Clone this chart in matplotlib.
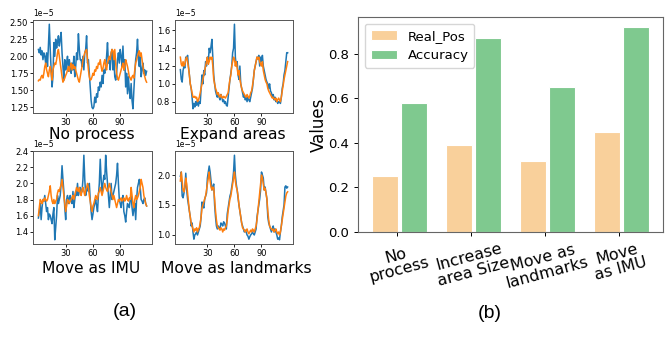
import numpy as np
import matplotlib
matplotlib.use('Agg')
import matplotlib.pyplot as plt

# left panel: four time series (values in units of 1e-5)
noproc_blue = [2.10, 2.05, 2.13, 2.02, 2.08, 1.95, 2.05, 2.00, 1.90, 2.05,
               1.85, 2.15, 2.47, 2.10, 1.80, 1.55, 1.70, 2.20, 2.00, 2.25,
               2.12, 2.20, 2.30, 2.15, 2.25, 2.35, 2.05, 1.85, 1.65, 1.95,
               1.80, 1.90, 2.00, 1.78, 1.95, 1.85, 1.75, 1.90, 1.80, 2.00,
               1.70, 1.85, 2.05, 1.95, 2.33, 2.10, 1.95, 1.95, 1.85, 2.00,
               1.80, 2.05, 2.10, 2.30, 1.90, 1.95, 1.75, 1.55, 1.35, 1.25,
               1.23, 1.26, 1.40, 1.32, 1.45, 1.40, 1.55, 1.50, 1.62, 1.55,
               1.72, 1.60, 1.80, 1.75, 1.85, 2.00, 2.20, 1.90, 1.95, 1.80,
               2.05, 2.10, 1.80, 1.95, 1.70, 1.65, 1.75, 1.95, 2.05, 1.90,
               2.10, 2.00, 1.85, 2.15, 1.80, 1.95, 1.55, 1.75, 1.45, 1.70,
               1.50, 1.38, 1.60, 1.35, 1.23, 1.50, 1.75, 1.95, 2.05, 2.25,
               1.95, 1.85, 2.00, 1.70, 1.80, 1.90, 1.75, 1.80, 1.72, 1.78]
noproc_orange = [1.64, 1.66, 1.65, 1.70, 1.72, 1.68, 1.75, 1.85, 1.90, 1.80,
                 1.75, 1.70, 1.80, 1.85, 1.75, 1.65, 1.80, 1.85, 1.90, 1.88,
                 1.95, 2.05, 2.10, 2.00, 1.90, 1.80, 1.70, 1.62, 1.65, 1.68,
                 1.72, 1.75, 1.80, 1.85, 1.78, 1.85, 1.90, 1.80, 1.88, 1.82,
                 1.85, 1.80, 1.75, 1.70, 1.65, 1.62, 1.70, 1.78, 1.85, 1.95,
                 2.00, 2.05, 2.08, 2.10, 1.95, 1.80, 1.70, 1.65, 1.66, 1.70,
                 1.75, 1.72, 1.80, 1.78, 1.85, 1.82, 1.90, 1.88, 1.95, 1.85,
                 1.78, 1.82, 1.90, 1.95, 1.85, 1.80, 1.90, 1.95, 2.00, 1.95,
                 2.05, 2.10, 2.08, 1.95, 2.10, 1.90, 1.75, 1.68, 1.65, 1.70,
                 1.75, 1.80, 1.85, 1.90, 1.80, 1.85, 1.95, 1.90, 1.85, 1.78,
                 1.70, 1.68, 1.65, 1.70, 1.72, 1.68, 1.80, 1.90, 1.95, 2.00,
                 2.05, 2.08, 2.00, 2.05, 1.95, 1.85, 1.75, 1.70, 1.65, 1.62]

expand_blue = [1.16, 1.05, 1.02, 1.15, 1.20, 1.18, 1.30, 1.28, 1.32, 1.20,
               1.10, 1.00, 0.95, 0.85, 0.72, 0.78, 0.74, 0.80, 0.76, 0.82,
               0.75, 0.80, 0.78, 0.95, 1.10, 1.00, 1.15, 1.10, 1.25, 1.20,
               1.30, 1.25, 1.40, 1.35, 1.42, 1.50, 1.30, 1.10, 1.00, 0.92,
               0.88, 0.85, 0.90, 0.85, 0.82, 0.88, 0.85, 0.80, 0.82, 0.78,
               0.80, 0.76, 0.75, 0.85, 0.95, 1.05, 1.12, 1.20, 1.35, 1.40,
               1.67, 1.30, 1.20, 1.25, 1.10, 1.05, 1.20, 1.00, 0.95, 0.90,
               0.85, 0.88, 0.82, 0.85, 0.80, 0.85, 0.82, 0.80, 0.85, 0.90,
               0.95, 1.05, 1.15, 1.20, 1.25, 1.30, 1.28, 1.32, 1.20, 1.30,
               1.25, 1.32, 1.20, 1.15, 1.10, 1.05, 1.02, 1.00, 0.95, 1.00,
               0.92, 0.90, 0.85, 0.88, 0.82, 0.85, 0.80, 0.82, 0.78, 0.80,
               0.80, 0.78, 0.85, 0.95, 1.00, 1.10, 1.15, 1.25, 1.35, 1.35]
expand_orange = [1.30, 1.22, 1.20, 1.25, 1.20, 1.22, 1.28, 1.30, 1.25, 1.18,
                 1.10, 1.00, 0.95, 0.90, 0.85, 0.85, 0.86, 0.84, 0.85, 0.80,
                 0.82, 0.85, 0.90, 0.95, 1.00, 1.05, 1.10, 1.15, 1.20, 1.25,
                 1.30, 1.22, 1.25, 1.30, 1.28, 1.30, 1.20, 1.05, 1.00, 0.95,
                 0.92, 0.88, 0.90, 0.86, 0.85, 0.88, 0.85, 0.84, 0.86, 0.85,
                 0.84, 0.86, 0.88, 0.90, 0.98, 1.05, 1.10, 1.20, 1.25, 1.30,
                 1.28, 1.20, 1.25, 1.18, 1.10, 1.15, 1.05, 1.00, 0.95, 0.92,
                 0.90, 0.88, 0.86, 0.85, 0.88, 0.86, 0.84, 0.86, 0.90, 0.92,
                 0.98, 1.05, 1.15, 1.20, 1.25, 1.30, 1.28, 1.30, 1.25, 1.22,
                 1.20, 1.25, 1.15, 1.10, 1.05, 1.02, 1.00, 0.95, 0.92, 0.90,
                 0.88, 0.86, 0.84, 0.85, 0.83, 0.82, 0.84, 0.80, 0.82, 0.84,
                 0.82, 0.80, 0.85, 0.92, 0.98, 1.05, 1.10, 1.15, 1.20, 1.25]

imu_blue = [1.57, 1.65, 1.75, 1.55, 1.70, 1.80, 1.78, 1.85, 1.75, 1.65,
            1.70, 1.55, 1.62, 1.60, 1.55, 1.50, 1.62, 1.70, 1.30, 1.45,
            1.60, 1.85, 1.75, 1.80, 1.85, 2.00, 2.22, 2.05, 1.90, 1.70,
            1.55, 1.80, 1.85, 1.75, 1.82, 1.85, 1.78, 1.75, 1.90, 1.70,
            1.80, 1.90, 1.85, 2.00, 1.85, 1.90, 1.95, 1.88, 1.90, 2.05,
            2.35, 2.05, 1.85, 1.92, 1.95, 1.90, 2.00, 1.80, 1.65, 1.55,
            1.62, 1.70, 1.75, 1.80, 1.72, 1.65, 1.85, 2.00, 2.30, 2.05,
            1.90, 2.00, 2.10, 2.05, 2.35, 2.15, 2.00, 1.85, 1.70, 1.85,
            2.00, 1.80, 1.85, 1.90, 1.95, 2.00, 2.10, 2.25, 2.00, 1.80,
            1.75, 1.70, 1.80, 1.85, 1.65, 1.60, 1.52, 1.65, 1.75, 1.72,
            1.70, 1.80, 1.85, 1.70, 1.60, 1.68, 1.75, 1.55, 1.80, 1.95,
            2.00, 2.05, 1.95, 1.80, 1.78, 1.75, 1.80, 1.82, 1.75, 1.72]
imu_orange = [1.60, 1.70, 1.80, 1.78, 1.75, 1.80, 1.78, 1.82, 1.80, 1.78,
              1.80, 1.85, 1.90, 1.97, 1.85, 1.78, 1.75, 1.80, 1.75, 1.78,
              1.80, 1.88, 1.92, 1.90, 1.95, 1.98, 2.05, 1.95, 1.85, 1.75,
              1.65, 1.72, 1.80, 1.78, 1.75, 1.78, 1.80, 1.82, 1.85, 1.80,
              1.85, 1.90, 1.95, 1.92, 1.90, 1.95, 1.88, 1.85, 1.92, 1.95,
              1.90, 1.85, 1.92, 1.95, 2.00, 1.95, 1.85, 1.78, 1.70, 1.65,
              1.72, 1.75, 1.80, 1.85, 1.82, 1.80, 1.88, 1.90, 1.95, 1.90,
              1.85, 1.90, 1.95, 2.00, 1.95, 1.92, 1.90, 1.95, 2.00, 1.95,
              1.90, 1.85, 1.80, 1.85, 1.80, 1.75, 1.70, 1.75, 1.80, 1.78,
              1.80, 1.82, 1.78, 1.80, 1.82, 1.78, 1.80, 1.85, 1.80, 1.78,
              1.82, 1.80, 1.95, 1.85, 1.75, 1.70, 1.80, 1.85, 1.80, 1.82,
              1.85, 1.90, 1.95, 2.05, 2.00, 1.95, 1.85, 1.80, 1.75, 1.72]

land_blue = [1.98, 2.05, 1.65, 1.62, 1.70, 1.80, 2.03, 1.75, 1.60, 1.50,
             1.40, 1.30, 1.15, 1.20, 1.05, 0.93, 1.00, 1.02, 1.05, 1.00,
             1.05, 1.10, 1.15, 1.30, 1.55, 1.50, 1.45, 1.60, 1.65, 1.70,
             1.95, 2.05, 2.15, 2.05, 1.90, 1.75, 1.80, 1.85, 1.50, 1.30,
             1.15, 1.10, 1.15, 1.12, 1.10, 1.20, 1.18, 1.15, 1.22, 1.20,
             1.15, 1.10, 1.35, 1.45, 1.55, 1.65, 1.70, 1.80, 1.90, 2.05,
             2.33, 2.00, 1.85, 1.75, 1.62, 1.50, 1.40, 1.30, 1.20, 1.15,
             1.10, 1.05, 1.08, 1.05, 1.00, 0.98, 0.93, 0.97, 1.00, 1.02,
             1.05, 1.02, 1.00, 1.05, 1.10, 1.30, 1.40, 1.50, 1.60, 1.75,
             2.05, 2.00, 1.95, 1.75, 1.80, 1.70, 1.60, 1.30, 1.20, 1.15,
             1.10, 1.05, 1.10, 1.15, 1.05, 1.10, 1.05, 1.00, 0.93, 0.95,
             0.92, 1.05, 1.15, 1.30, 1.40, 1.50, 1.80, 1.82, 1.78, 1.80]
land_orange = [1.90, 2.05, 1.90, 1.75, 1.72, 1.80, 1.95, 1.85, 1.70, 1.55,
               1.40, 1.30, 1.20, 1.15, 1.10, 1.05, 1.10, 1.08, 1.12, 1.05,
               1.10, 1.12, 1.20, 1.30, 1.45, 1.50, 1.55, 1.60, 1.65, 1.75,
               1.85, 1.95, 2.05, 1.90, 1.80, 1.75, 1.80, 1.78, 1.60, 1.40,
               1.25, 1.15, 1.12, 1.10, 1.08, 1.12, 1.10, 1.05, 1.10, 1.08,
               1.12, 1.15, 1.25, 1.40, 1.50, 1.60, 1.65, 1.75, 1.85, 1.95,
               2.05, 1.90, 1.80, 1.75, 1.65, 1.50, 1.40, 1.30, 1.20, 1.12,
               1.10, 1.08, 1.05, 1.08, 1.10, 1.05, 1.02, 1.05, 1.08, 1.05,
               1.10, 1.08, 1.05, 1.10, 1.15, 1.25, 1.40, 1.55, 1.70, 1.85,
               2.00, 1.95, 1.85, 1.75, 1.78, 1.70, 1.60, 1.40, 1.25, 1.15,
               1.12, 1.10, 1.08, 1.10, 1.05, 1.08, 1.10, 1.05, 1.02, 1.05,
               1.00, 1.05, 1.15, 1.25, 1.35, 1.45, 1.55, 1.65, 1.70, 1.72]

panel_names = ['No process', 'Expand areas', 'Move as IMU', 'Move as landmarks']
panel_yticks = [[1.25, 1.50, 1.75, 2.00, 2.25, 2.50],
                [0.8, 1.0, 1.2, 1.4, 1.6],
                [1.4, 1.6, 1.8, 2.0, 2.2, 2.4],
                [1.0, 1.5, 2.0]]

# right panel: bars
bar_labels = ['No\nprocess', 'Increase\narea Size', 'Move as\nlandmarks', 'Move\nas IMU']
real_pos = [0.25, 0.39, 0.32, 0.45]
accuracy = [0.58, 0.87, 0.65, 0.92]

fig = plt.figure(figsize=(6.69, 3.38), dpi=100)

W, H = 669, 338
def px_axes(l, t, r, b):
    return fig.add_axes([l / W, 1 - b / H, (r - l) / W, (b - t) / H])

series = [(noproc_blue, noproc_orange), (expand_blue, expand_orange),
          (imu_blue, imu_orange), (land_blue, land_orange)]
boxes = [(33, 20, 152, 113), (175, 20, 293, 113),
         (33, 151, 152, 244), (175, 151, 293, 244)]
label_pos = [(92, 139), (233, 139), (91, 273), (236, 273)]

for (b, o), box, name, lp, yt in zip(series, boxes, panel_names, label_pos, panel_yticks):
    ax = px_axes(*box)
    x = np.arange(len(b))
    ax.plot(x, np.array(b) * 1e-5, color='#1f77b4', lw=1.1)
    ax.plot(x, np.array(o) * 1e-5, color='#ff7f0e', lw=1.1)
    ax.set_xticks([30, 60, 90])
    ax.set_yticks(np.array(yt) * 1e-5)
    ax.tick_params(labelsize=6, length=2, width=0.6, pad=1.5)
    ax.yaxis.get_offset_text().set_fontsize(5.5)
    for s in ax.spines.values():
        s.set_linewidth(0.7)
        s.set_color('#555555')
    fig.text(lp[0] / W, 1 - lp[1] / H, name, fontsize=11.2, ha='center', va='baseline')

axb = px_axes(358, 17, 663, 232)
xb = np.arange(len(bar_labels))
axb.bar(xb - 0.17, real_pos, width=0.35, color='#f9d09b', edgecolor='white',
        linewidth=0.8, label='Real_Pos')
axb.bar(xb + 0.23, accuracy, width=0.35, color='#7fc98f', edgecolor='white',
        linewidth=0.8, label='Accuracy')
axb.set_xticks(xb)
axb.set_xticklabels(bar_labels, rotation=15, fontsize=11.5, linespacing=1.0)
axb.set_yticks([0.0, 0.2, 0.4, 0.6, 0.8])
axb.tick_params(axis='y', labelsize=9.5, length=3, width=0.7)
axb.tick_params(axis='x', length=3, width=0.7, pad=3)
axb.set_ylabel('Values', fontsize=12, labelpad=0)
for s in axb.spines.values():
    s.set_linewidth(0.8)
    s.set_color('#666666')
axb.legend(loc='upper left', fontsize=9.5, handlelength=2.0, borderpad=0.45,
           labelspacing=0.5)

fig.text(125 / W, 1 - 312 / H, '(a)', fontsize=14, family='Liberation Sans',
         ha='center', va='center')
fig.text(490 / W, 1 - 313 / H, '(b)', fontsize=14, family='Liberation Sans',
         ha='center', va='center')

fig.savefig('out.png', dpi=100)
